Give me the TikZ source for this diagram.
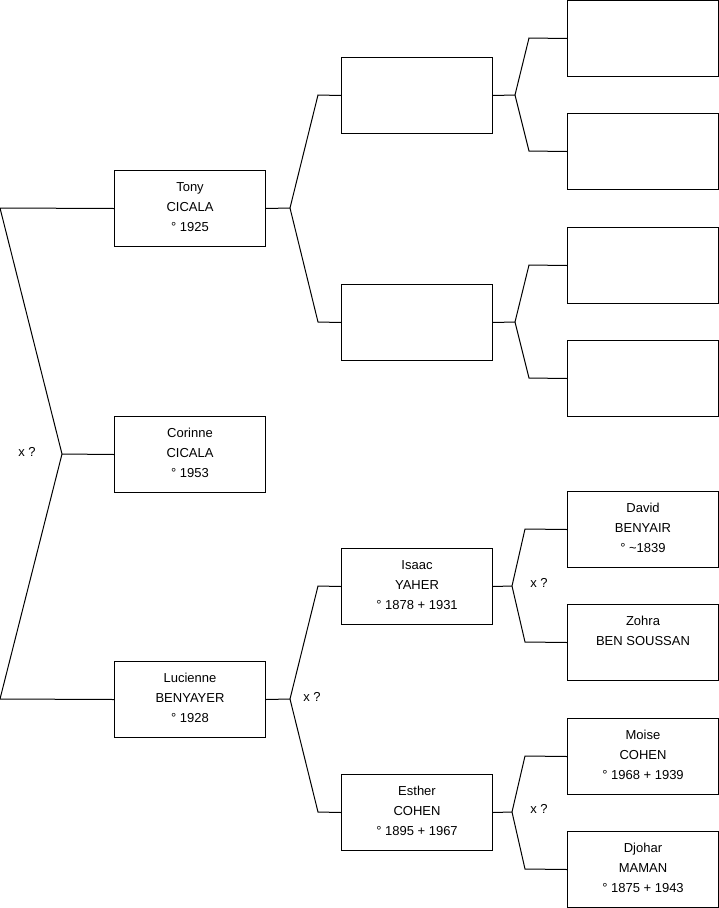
\documentclass[tikz,border=0pt]{standalone}
\usepackage{fontspec}
\setmainfont{Liberation Sans}
\newcommand\pcontent[1]{\parbox[c][76pt][t]{151pt}{\fontsize{13pt}{20pt}\selectfont\centering\rule{0pt}{20.6pt}#1\par}}
\tikzset{
  person/.style={draw=black, line width=1pt, rectangle, inner sep=0pt, minimum width=151pt, minimum height=76pt, anchor=north west},
  conn/.style={draw=black, line width=1pt},
  mlabel/.style={font=\fontsize{13pt}{15pt}\selectfont, inner sep=0pt}
}
\begin{document}
\begin{tikzpicture}[x=1pt,y=-1pt]
\useasboundingbox (0,0) rectangle (719,908);
% generation 1
\node[person] (tony) at (114,170) {\pcontent{Tony\\CICALA\\° 1925}};
\node[person] (corinne) at (114,416) {\pcontent{Corinne\\CICALA\\° 1953}};
\node[person] (lucienne) at (114,661) {\pcontent{Lucienne\\BENYAYER\\° 1928}};
% generation 2
\node[person] (f1) at (341,57) {\pcontent{}};
\node[person] (m1) at (341,284) {\pcontent{}};
\node[person] (isaac) at (341,548) {\pcontent{Isaac\\YAHER\\° 1878 + 1931}};
\node[person] (esther) at (341,774) {\pcontent{Esther\\COHEN\\° 1895 + 1967}};
% generation 3
\node[person] (ff) at (567,0) {\pcontent{}};
\node[person] (fm) at (567,113) {\pcontent{}};
\node[person] (mf) at (567,227) {\pcontent{}};
\node[person] (mm) at (567,340) {\pcontent{}};
\node[person] (david) at (567,491) {\pcontent{David\\BENYAIR\\° \textasciitilde1839}};
\node[person] (zohra) at (567,604) {\pcontent{Zohra\\BEN SOUSSAN}};
\node[person] (moise) at (567,718) {\pcontent{Moise\\COHEN\\° 1968 + 1939}};
\node[person] (djohar) at (567,831) {\pcontent{Djohar\\MAMAN\\° 1875 + 1943}};
% couple connector gen 1
\coordinate (a1) at (0,208);
\coordinate (am) at (62,454);
\coordinate (a2) at (0,699);
\draw[conn] (tony.west) -- (a1) -- (am) -- (a2) -- (lucienne.west);
\draw[conn] (am) -- (corinne.west);
\node[mlabel] (xa) at (27,452) {x ?};
% Tony -> parents
\coordinate (b0) at (290,208);
\coordinate (b1) at (318,95);
\coordinate (b2) at (318,322);
\draw[conn] (tony.east) -- (b0) -- (b1) -- (f1.west);
\draw[conn] (b0) -- (b2) -- (m1.west);
% Lucienne -> parents
\coordinate (c0) at (290,699);
\coordinate (c1) at (318,586);
\coordinate (c2) at (318,812);
\draw[conn] (lucienne.east) -- (c0) -- (c1) -- (isaac.west);
\draw[conn] (c0) -- (c2) -- (esther.west);
\node[mlabel] (xc) at (312,697) {x ?};
% f1 -> parents
\coordinate (d0) at (515,95);
\coordinate (d1) at (529,38);
\coordinate (d2) at (529,151);
\draw[conn] (f1.east) -- (d0) -- (d1) -- (ff.west);
\draw[conn] (d0) -- (d2) -- (fm.west);
% m1 -> parents
\coordinate (e0) at (515,322);
\coordinate (e1) at (529,265);
\coordinate (e2) at (529,378);
\draw[conn] (m1.east) -- (e0) -- (e1) -- (mf.west);
\draw[conn] (e0) -- (e2) -- (mm.west);
% Isaac -> parents
\coordinate (g0) at (512,586);
\coordinate (g1) at (525,529);
\coordinate (g2) at (525,642);
\draw[conn] (isaac.east) -- (g0) -- (g1) -- (david.west);
\draw[conn] (g0) -- (g2) -- (zohra.west);
\node[mlabel] (xg) at (539,583) {x ?};
% Esther -> parents
\coordinate (h0) at (512,812);
\coordinate (h1) at (525,756);
\coordinate (h2) at (525,869);
\draw[conn] (esther.east) -- (h0) -- (h1) -- (moise.west);
\draw[conn] (h0) -- (h2) -- (djohar.west);
\node[mlabel] (xh) at (539,809) {x ?};
\end{tikzpicture}
\end{document}
